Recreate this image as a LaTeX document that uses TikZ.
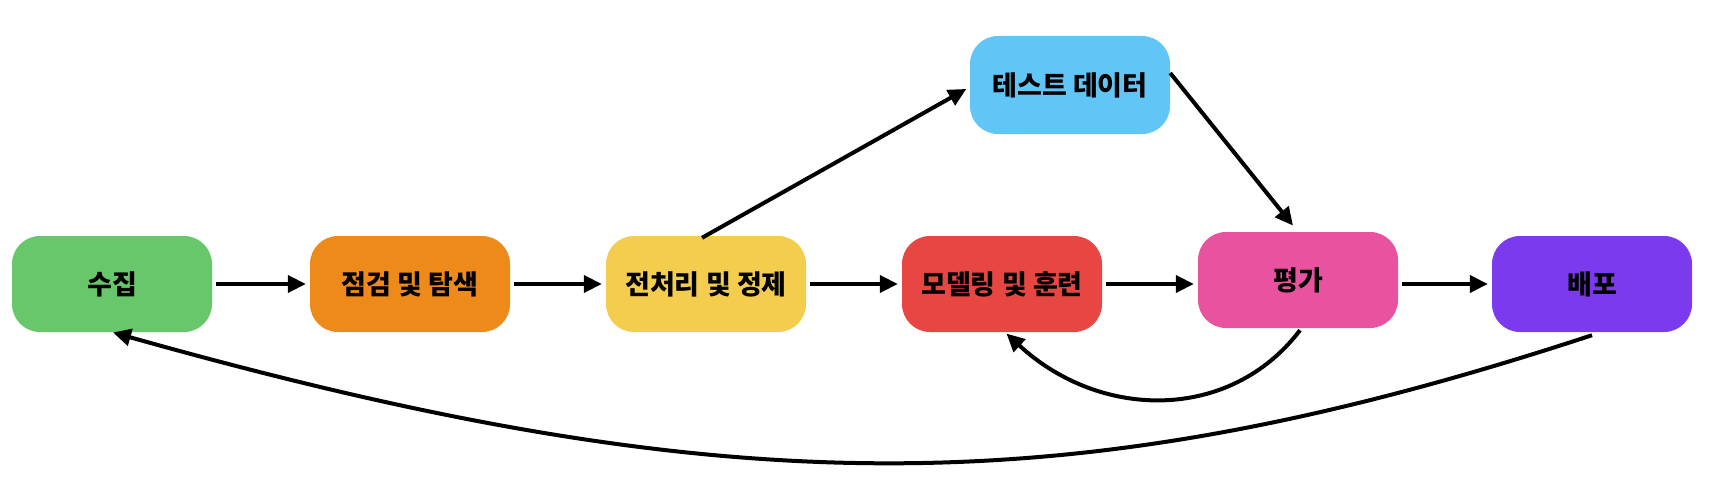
\documentclass[tikz,border=0pt]{standalone}
\usepackage{fontspec}
\setmainfont{Noto Sans CJK KR}
\usetikzlibrary{arrows.meta}
\definecolor{cgreen}{HTML}{68C76A}
\definecolor{corange}{HTML}{EE8A1A}
\definecolor{cyellow}{HTML}{F4CD4F}
\definecolor{cred}{HTML}{E84642}
\definecolor{cpink}{HTML}{E9529F}
\definecolor{cpurple}{HTML}{7C3AEE}
\definecolor{cblue}{HTML}{61C5F6}
\tikzset{
  stagebox/.style={rounded corners=28pt, minimum width=200pt, minimum height=96pt,
    inner sep=0pt, font=\fontsize{27}{32}\selectfont\bfseries, text=black},
  conn/.style={line width=4pt, draw=black, -{Triangle[length=18pt,width=17pt]}}
}
\begin{document}
\begin{tikzpicture}[x=1pt,y=-1pt]
\useasboundingbox[fill=white] (0,0) rectangle (1712,492);
\node[stagebox, fill=cgreen]  (sj) at (112,284)  {수집};
\node[stagebox, fill=corange] (jg) at (410,284)  {점검 및 탐색};
\node[stagebox, fill=cyellow] (jc) at (706,284)  {전처리 및 정제};
\node[stagebox, fill=cred]    (mo) at (1002,284) {모델링 및 훈련};
\node[stagebox, fill=cpink]   (pg) at (1298,280) {평가};
\node[stagebox, fill=cpurple] (bp) at (1592,284) {배포};
\node[stagebox, fill=cblue, minimum height=98pt] (td) at (1070,85) {테스트 데이터};

\draw[conn, shorten <=4pt, shorten >=4pt] (sj.east) -- (jg.west);
\draw[conn, shorten <=4pt, shorten >=4pt] (jg.east) -- (jc.west);
\draw[conn, shorten <=4pt, shorten >=4pt] (jc.east) -- (mo.west);
\draw[conn, shorten <=4pt, shorten >=4pt] (mo.east) -- (mo.east -| pg.west);
\draw[conn, shorten <=4pt, shorten >=4pt] (pg.east |- bp.west) -- (bp.west);

\draw[conn, shorten >=4pt] ([xshift=-4pt,yshift=-2pt]jc.north) -- ([yshift=-2pt]td.west);
\draw[conn, shorten >=8pt] ([yshift=12pt]td.east) -- (pg.north);

\draw[conn, shorten >=2pt] ([xshift=2pt,yshift=-2pt]pg.south) .. controls +(-70,92) and +(95,88) .. ([xshift=3pt]mo.south);
\draw[conn, shorten >=1pt] ([yshift=-3pt]bp.south) .. controls +(-523,172) and +(612,172) .. (sj.south);
\end{tikzpicture}
\end{document}
